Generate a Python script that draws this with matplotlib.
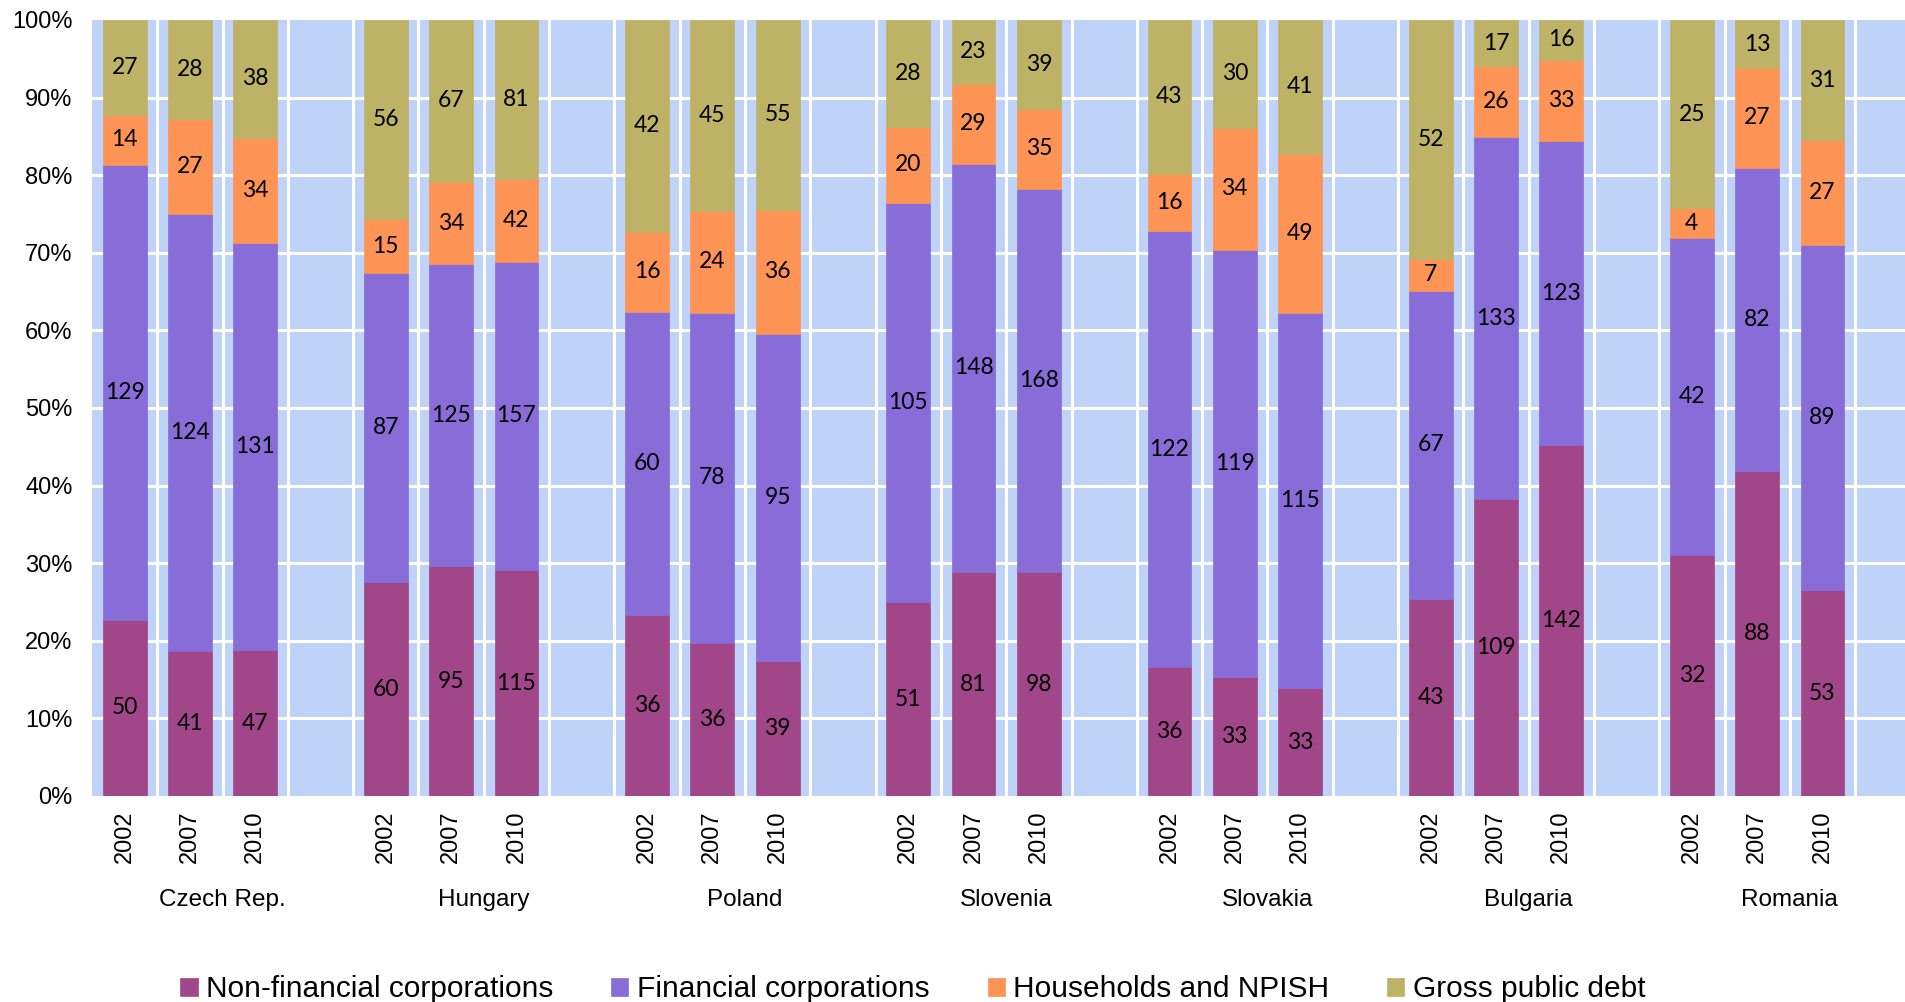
import numpy as np
import matplotlib
matplotlib.use("Agg")
import matplotlib.pyplot as plt

countries = ["Czech Rep.", "Hungary", "Poland", "Slovenia", "Slovakia", "Bulgaria", "Romania"]
years = ["2002", "2007", "2010"]

# Debt by sector, one row per country, one column per year
non_financial = [[50, 41, 47], [60, 95, 115], [36, 36, 39], [51, 81, 98],
                 [36, 33, 33], [43, 109, 142], [32, 88, 53]]
financial = [[129, 124, 131], [87, 125, 157], [60, 78, 95], [105, 148, 168],
             [122, 119, 115], [67, 133, 123], [42, 82, 89]]
households = [[14, 27, 34], [15, 34, 42], [16, 24, 36], [20, 29, 35],
              [16, 34, 49], [7, 26, 33], [4, 27, 27]]
public_debt = [[27, 28, 38], [56, 67, 81], [42, 45, 55], [28, 23, 39],
               [43, 30, 41], [52, 17, 16], [25, 13, 31]]

series_names = ["Non-financial corporations", "Financial corporations",
                "Households and NPISH", "Gross public debt"]
colors = ["#A2468A", "#886CD7", "#FD9354", "#BEB267"]

W, H = 1906, 1002
fig = plt.figure(figsize=(W / 100, H / 100), dpi=100)
left_px, bottom_px, top_px = 92, 796, 20
ax = fig.add_axes([left_px / W, (H - bottom_px) / H, (W - left_px) / W, (bottom_px - top_px) / H])
ax.set_facecolor("#BFD2F7")
for s in ax.spines.values():
    s.set_visible(False)

label_font = ["Lato", "DejaVu Sans"]
axis_font = ["Liberation Sans", "DejaVu Sans"]

# Each country takes three slots plus one empty slot
positions, tick_labels, group_centers = [], [], []
for ci in range(len(countries)):
    base = ci * 4
    for yi in range(3):
        positions.append(base + yi)
        tick_labels.append(years[yi])
    group_centers.append(base + 1.5)

data = np.array([np.array(non_financial).ravel(), np.array(financial).ravel(),
                 np.array(households).ravel(), np.array(public_debt).ravel()], dtype=float)
shares = data / data.sum(axis=0) * 100
positions = np.array(positions)

bottoms = np.zeros(len(positions))
for k in range(4):
    ax.bar(positions, shares[k], bottom=bottoms, width=0.67, color=colors[k],
           edgecolor=colors[k], linewidth=0.5, zorder=3, label=series_names[k])
    for x, b, h, v in zip(positions, bottoms, shares[k], data[k]):
        ax.text(x, b + h / 2, f"{int(v)}", ha="center", va="center",
                fontsize=16.5, family=label_font, color="black", zorder=4)
    bottoms += shares[k]

n_slots = len(countries) * 4
slot_px = 65.3
ax.set_xlim(-0.5, -0.5 + (W - left_px) / slot_px)
ax.set_ylim(0, 100)

# White grid: horizontal every 10 %, vertical at slot boundaries
for y in range(10, 100, 10):
    ax.axhline(y, color="white", linewidth=2.2, zorder=1)
for b in np.arange(0.5, n_slots + 0.5, 1.0):
    ax.axvline(b, color="white", linewidth=2.2, zorder=1)

ax.set_yticks(np.arange(0, 101, 10))
ax.set_yticklabels([f"{v}%" for v in range(0, 101, 10)], family=axis_font, fontsize=17)
ax.set_xticks(positions)
ax.set_xticklabels(tick_labels, rotation=90, family=axis_font, fontsize=17, va="top")
ax.tick_params(axis="both", length=0)
ax.tick_params(axis="y", pad=14)
ax.tick_params(axis="x", pad=10.5)

for c, x in zip(countries, group_centers):
    ax.text(x, -13.4, c, ha="center", va="center", fontsize=17.5,
            family=axis_font, clip_on=False)

leg = fig.legend(loc="center", bbox_to_anchor=(0.479, 0.0125), ncol=4, frameon=False,
                 prop={"family": axis_font, "size": 21.5}, handlelength=0.57,
                 handleheight=0.57, handletextpad=0.28, columnspacing=1.95,
                 borderaxespad=0)

fig.savefig("out.png", dpi=100)
